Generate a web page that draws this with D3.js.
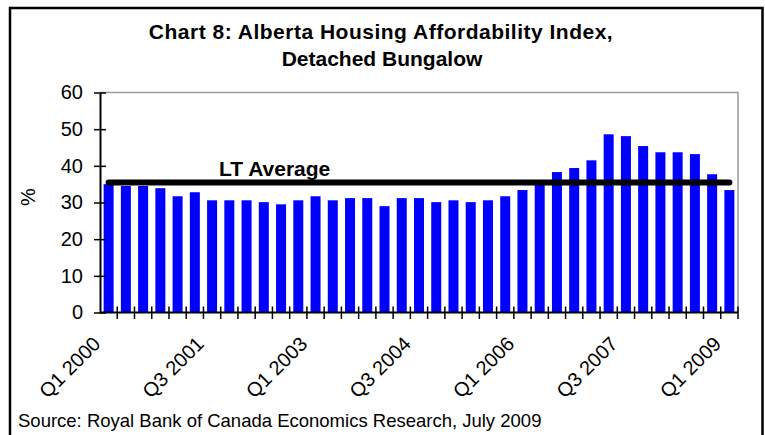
<!DOCTYPE html>
<html>
<head>
<meta charset="utf-8">
<script src="https://cdn.jsdelivr.net/npm/d3@7"></script>
<style>
    body { margin: 0; background: #fff; }
    svg { display: block; font-family: "Liberation Sans", Arial, sans-serif; }
</style>
</head>
<body>
<div id="chart"></div>
<script>
const quarters = [
    "Q1 2000","Q2 2000","Q3 2000","Q4 2000",
    "Q1 2001","Q2 2001","Q3 2001","Q4 2001",
    "Q1 2002","Q2 2002","Q3 2002","Q4 2002",
    "Q1 2003","Q2 2003","Q3 2003","Q4 2003",
    "Q1 2004","Q2 2004","Q3 2004","Q4 2004",
    "Q1 2005","Q2 2005","Q3 2005","Q4 2005",
    "Q1 2006","Q2 2006","Q3 2006","Q4 2006",
    "Q1 2007","Q2 2007","Q3 2007","Q4 2007",
    "Q1 2008","Q2 2008","Q3 2008","Q4 2008",
    "Q1 2009"
];
const affordability = [
    35.0, 34.5, 34.5, 33.9,
    31.7, 32.8, 30.6, 30.6,
    30.6, 30.1, 29.5, 30.6,
    31.7, 30.6, 31.2, 31.2,
    29.0, 31.2, 31.2, 30.1,
    30.6, 30.1, 30.6, 31.7,
    33.4, 35.5, 38.3, 39.4,
    41.5, 48.6, 48.1, 45.4,
    43.7, 43.7, 43.2, 37.7,
    33.4
];
const ltAverage = 35.45;
const yTicks = [0, 10, 20, 30, 40, 50, 60];
const labelledQuarters = ["Q1 2000","Q3 2001","Q1 2003","Q3 2004","Q1 2006","Q3 2007","Q1 2009"];

const width = 765, height = 435;
const plot = {left: 100, right: 738, top: 92.5, bottom: 312.5};

const svg = d3.select("#chart").append("svg")
    .attr("width", width)
    .attr("height", height);

// outer frame (bottom edge runs off the picture)
svg.append("rect")
    .attr("x", 10).attr("y", 8)
    .attr("width", 752.5).attr("height", 445)
    .attr("fill", "none")
    .attr("stroke", "#000")
    .attr("stroke-width", 2.5);

const x = d3.scaleBand()
    .domain(quarters)
    .range([plot.left, plot.right])
    .paddingInner(0.42)
    .paddingOuter(0.21);

const xCat = d3.scaleBand()
    .domain(quarters)
    .range([plot.left, plot.right]);

const y = d3.scaleLinear()
    .domain([0, 60])
    .range([plot.bottom, plot.top]);

// plot area border: top and right in grey
svg.append("path")
    .attr("d", "M" + plot.left + "," + y(60) + "H" + plot.right + "V" + plot.bottom)
    .attr("fill", "none")
    .attr("stroke", "#9a9a9a")
    .attr("stroke-width", 1.5);

// title
svg.append("text")
    .attr("x", 381).attr("y", 39)
    .attr("text-anchor", "middle")
    .attr("font-weight", "bold")
    .attr("font-size", 21)
    .attr("letter-spacing", 0.5)
    .text("Chart 8: Alberta Housing Affordability Index,");
svg.append("text")
    .attr("x", 382).attr("y", 66)
    .attr("text-anchor", "middle")
    .attr("font-weight", "bold")
    .attr("font-size", 21)
    .text("Detached Bungalow");

// bars
svg.selectAll(".bar")
    .data(quarters.map((q,i)=>({quarter:q, value:affordability[i]})))
    .join("rect")
    .attr("class","bar")
    .attr("x", d=>x(d.quarter))
    .attr("width", x.bandwidth())
    .attr("y", d=>y(d.value))
    .attr("height", d=>y(0)-y(d.value))
    .attr("fill", "#0000ff");

// y axis
const yAxis = svg.append("g")
    .attr("transform", "translate(" + plot.left + ",0)")
    .call(d3.axisLeft(y).tickValues(yTicks).tickSize(6).tickPadding(11).tickSizeOuter(0));
yAxis.select(".domain").attr("stroke", "#000").attr("stroke-width", 2);
yAxis.selectAll(".tick line").attr("x2", 6).attr("x1", -6).attr("stroke-width", 1.5);
yAxis.selectAll(".tick text")
    .attr("font-family", "Liberation Sans, Arial, sans-serif")
    .attr("font-size", 20)
    .attr("fill", "#000");

svg.append("text")
    .attr("transform", "translate(35,197) rotate(-90)")
    .attr("text-anchor", "middle")
    .attr("font-size", 20)
    .text("%");

// x axis: ticks on category boundaries, crossing the axis
const xAxisG = svg.append("g");
xAxisG.append("line")
    .attr("x1", plot.left).attr("x2", plot.right)
    .attr("y1", y(0)).attr("y2", y(0))
    .attr("stroke", "#000").attr("stroke-width", 2);
xAxisG.selectAll(".xtick")
    .data(quarters)
    .join("line")
    .attr("class","xtick")
    .attr("x1", d=>xCat(d) + xCat.bandwidth())
    .attr("x2", d=>xCat(d) + xCat.bandwidth())
    .attr("y1", y(0) - 6).attr("y2", y(0) + 6.5)
    .attr("stroke", "#000").attr("stroke-width", 1.5);

xAxisG.selectAll(".xlabel")
    .data(labelledQuarters)
    .join("text")
    .attr("class","xlabel")
    .attr("transform", d=>"translate(" + (xCat(d) + xCat.bandwidth()/2 - 17) + "," + 335 + ") rotate(-45)")
    .attr("text-anchor", "end")
    .attr("dy", "0.71em")
    .attr("font-size", 20)
    .text(d=>d);

// long-term average
svg.append("line")
    .attr("x1", xCat(quarters[0]) + xCat.bandwidth()/2)
    .attr("x2", xCat(quarters[quarters.length-1]) + xCat.bandwidth()/2)
    .attr("y1", y(ltAverage)).attr("y2", y(ltAverage))
    .attr("stroke", "#000")
    .attr("stroke-width", 6)
    .attr("stroke-linecap", "round");

svg.append("text")
    .attr("x", 219).attr("y", 176)
    .attr("font-weight", "bold")
    .attr("font-size", 21)
    .text("LT Average");

// source note
svg.append("text")
    .attr("x", 18).attr("y", 427)
    .attr("font-size", 18.5)
    .text("Source: Royal Bank of Canada Economics Research, July 2009");
</script>
</body>
</html>
